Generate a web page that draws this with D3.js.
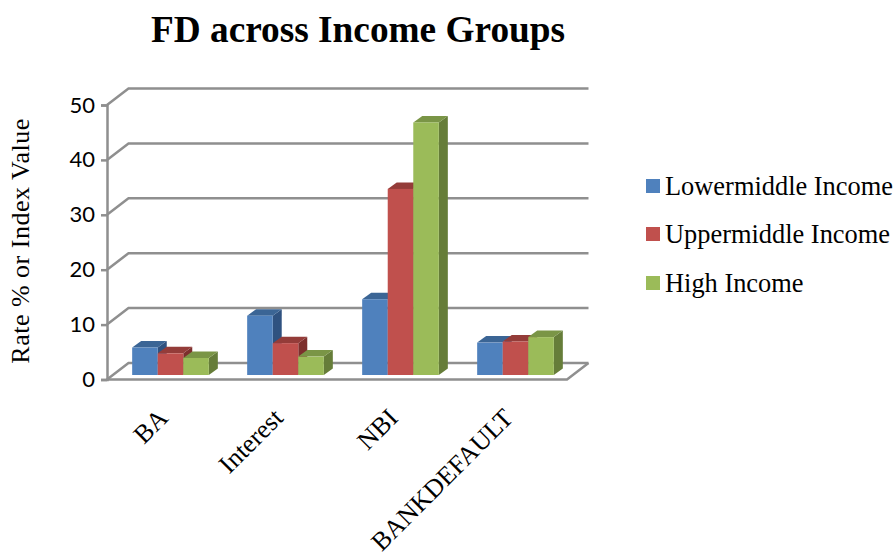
<!DOCTYPE html>
<html>
<head>
<meta charset="utf-8">
<script src="https://d3js.org/d3.v7.min.js"></script>
<style>
  html, body { margin: 0; padding: 0; background: #fff; }
  svg { display: block; }
  text { fill: #000; }
</style>
</head>
<body>
<script>
// chart values
var categories = ["BA", "Interest", "NBI", "BANKDEFAULT"];
var seriesNames = ["Lowermiddle Income", "Uppermiddle Income", "High Income"];
var lowerMiddle = [5.0, 10.8, 13.8, 5.9];
var upperMiddle = [3.95, 5.8, 33.9, 6.1];
var highIncome = [3.1, 3.35, 46.0, 6.9];
var yTicks = [0, 10, 20, 30, 40, 50];

var seriesValues = [lowerMiddle, upperMiddle, highIncome];
var front = ["#4f81bd", "#c0504d", "#9bbb59"];
var top_ = ["#3b6595", "#943c39", "#7a9546"];
var side = ["#2f5280", "#7d2f2d", "#667d39"];

var width = 896, height = 558;
var wallDx = 21.5, wallDy = -16.5;   // floor depth
var barGapDx = 6, barGapDy = -4.5;   // bars stand a little behind the front edge
var barDx = 9, barDy = -6.5;         // bar depth
var gridColor = "#8f8f8f";

var svg = d3.select("body").append("svg")
  .attr("width", width)
  .attr("height", height);

var x = d3.scaleBand().domain(categories).range([107, 567])
  .paddingInner(1 / 3).paddingOuter(1 / 6);
var y = d3.scaleLinear().domain([0, 50]).range([379.5, 105]);
var xSeries = d3.scaleBand().domain(d3.range(3)).range([0, x.bandwidth()]);

// title
svg.append("text")
  .attr("x", 358).attr("y", 42)
  .attr("text-anchor", "middle")
  .style("font-family", "'Liberation Serif'")
  .style("font-weight", "bold")
  .style("font-size", "37.3px")
  .text("FD across Income Groups");

// y axis title
svg.append("text")
  .attr("transform", "translate(29,241) rotate(-90)")
  .attr("text-anchor", "middle")
  .style("font-family", "'Liberation Serif'")
  .style("font-size", "26px")
  .style("letter-spacing", "0.5px")
  .text("Rate % or Index Value");

// back wall gridlines with the slanted return to the front axis
var grid = svg.append("g").attr("fill", "none")
  .attr("stroke", gridColor).attr("stroke-width", 2.5);
yTicks.forEach(function (t) {
  grid.append("path").attr("d", d3.line()([
    [107, y(t)],
    [107 + wallDx, y(t) + wallDy],
    [567 + wallDx, y(t) + wallDy]
  ]));
});
// floor front edge
grid.append("path").attr("d", d3.line()([
  [107, y(0)],
  [567, y(0)],
  [567 + wallDx, y(0) + wallDy]
]));

// y axis
var yAxis = svg.append("g")
  .attr("transform", "translate(107,0)")
  .call(d3.axisLeft(y).tickValues(yTicks).tickSize(6).tickPadding(6));
yAxis.selectAll("line, path").attr("stroke", gridColor).attr("stroke-width", 2.5);
yAxis.selectAll("text")
  .style("font-family", "Lato")
  .style("font-size", "22px")
  .attr("fill", "#000");

// bars, drawn group by group so the right neighbour overlaps the side face
categories.forEach(function (c, ci) {
  seriesValues.forEach(function (vals, si) {
    var x0 = x(c) + xSeries(si) + barGapDx;
    var x1 = x0 + xSeries.bandwidth();
    var yb = y(0) + barGapDy;
    var yt = y(vals[ci]) + barGapDy;
    var g = svg.append("g");
    g.append("path").attr("fill", side[si]).attr("d", d3.line()([
      [x1, yt], [x1 + barDx, yt + barDy], [x1 + barDx, yb + barDy], [x1, yb]
    ]) + "Z");
    g.append("path").attr("fill", top_[si]).attr("d", d3.line()([
      [x0, yt], [x0 + barDx, yt + barDy], [x1 + barDx, yt + barDy], [x1, yt]
    ]) + "Z");
    g.append("rect").attr("fill", front[si])
      .attr("x", x0).attr("y", yt)
      .attr("width", x1 - x0).attr("height", yb - yt);
  });
});

// category labels
var xAxis = svg.append("g")
  .attr("transform", "translate(0,379.5)")
  .call(d3.axisBottom(x).tickSize(0));
xAxis.select(".domain").remove();
xAxis.selectAll("text")
  .attr("transform", "translate(5,40) rotate(-45)")
  .attr("text-anchor", "end")
  .attr("dy", 0)
  .attr("y", 0)
  .style("font-family", "'Liberation Serif'")
  .style("font-size", "26px")
  .attr("fill", "#000");

// legend
var legendY = [179, 227, 276];
var legend = svg.selectAll("g.legend").data(seriesNames).enter().append("g")
  .attr("class", "legend")
  .attr("transform", function (d, i) { return "translate(646," + legendY[i] + ")"; });
legend.append("rect")
  .attr("width", 14).attr("height", 14)
  .attr("fill", function (d, i) { return front[i]; });
legend.append("text")
  .attr("x", 19).attr("y", 16)
  .style("font-family", "'Liberation Serif'")
  .style("font-size", "26.4px")
  .text(function (d) { return d; });
</script>
</body>
</html>
